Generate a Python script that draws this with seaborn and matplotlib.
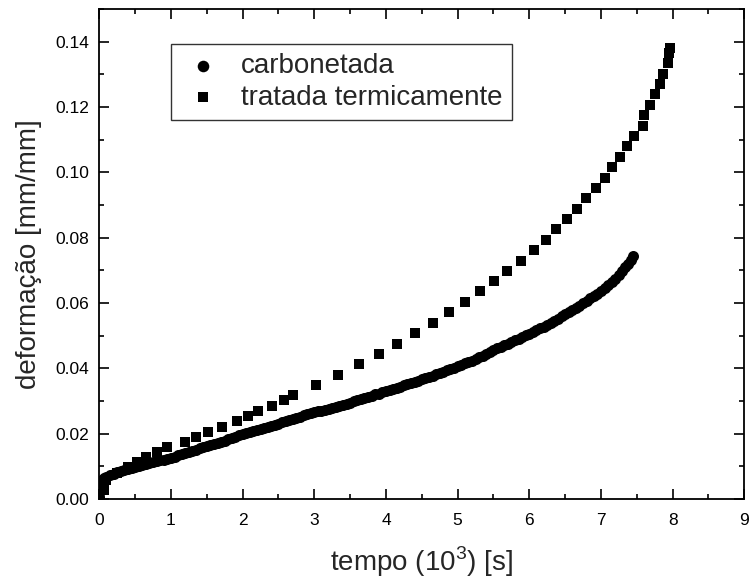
import numpy as np
import pandas as pd
import matplotlib
matplotlib.use("Agg")
import matplotlib.pyplot as plt
import seaborn as sns
from matplotlib.ticker import MultipleLocator

# carbonetada - tempo (10^3 s) and deformacao (mm/mm)
t_carb = [0.00, 0.00, 0.00, 0.01, 0.02, 0.04, 0.07, 0.10, 0.15, 0.20,
          0.25, 0.30, 0.35, 0.40, 0.45, 0.50, 0.55, 0.60, 0.65, 0.70,
          0.75, 0.80, 0.85, 0.90, 0.95, 1.00, 1.05, 1.10, 1.15, 1.20,
          1.25, 1.30, 1.35, 1.40, 1.45, 1.50, 1.55, 1.60, 1.65, 1.70,
          1.75, 1.80, 1.85, 1.90, 1.95, 2.00, 2.05, 2.10, 2.15, 2.20,
          2.25, 2.30, 2.35, 2.40, 2.45, 2.50, 2.55, 2.60, 2.65, 2.70,
          2.75, 2.80, 2.85, 2.90, 2.95, 3.00, 3.05, 3.10, 3.15, 3.20,
          3.25, 3.30, 3.35, 3.40, 3.45, 3.50, 3.55, 3.60, 3.65, 3.70,
          3.75, 3.80, 3.85, 3.90, 3.95, 4.00, 4.05, 4.10, 4.15, 4.20,
          4.25, 4.30, 4.35, 4.40, 4.45, 4.50, 4.55, 4.60, 4.65, 4.70,
          4.75, 4.80, 4.85, 4.90, 4.95, 5.00, 5.05, 5.10, 5.15, 5.20,
          5.25, 5.30, 5.35, 5.40, 5.45, 5.50, 5.55, 5.60, 5.65, 5.70,
          5.75, 5.80, 5.85, 5.90, 5.95, 6.00, 6.05, 6.10, 6.15, 6.20,
          6.25, 6.30, 6.35, 6.40, 6.45, 6.50, 6.55, 6.60, 6.65, 6.70,
          6.75, 6.80, 6.85, 6.90, 6.95, 7.00, 7.05, 7.10, 7.15, 7.20,
          7.25, 7.30, 7.34, 7.38, 7.42, 7.45]
e_carb = [0.0005, 0.0020, 0.0035, 0.0045, 0.0052, 0.0058, 0.0063, 0.0068, 0.0073, 0.0078,
          0.0082, 0.0085, 0.0088, 0.0091, 0.0094, 0.0097, 0.0100, 0.0103, 0.0106, 0.0109,
          0.0112, 0.0115, 0.0118, 0.0121, 0.0124, 0.0127, 0.0130, 0.0134, 0.0137, 0.0141,
          0.0144, 0.0148, 0.0151, 0.0155, 0.0158, 0.0162, 0.0165, 0.0169, 0.0172, 0.0176,
          0.0179, 0.0183, 0.0187, 0.0191, 0.0195, 0.0199, 0.0202, 0.0205, 0.0208, 0.0211,
          0.0215, 0.0218, 0.0221, 0.0224, 0.0228, 0.0231, 0.0235, 0.0238, 0.0242, 0.0245,
          0.0249, 0.0252, 0.0256, 0.0259, 0.0263, 0.0266, 0.0268, 0.0271, 0.0273, 0.0276,
          0.0279, 0.0282, 0.0285, 0.0288, 0.0292, 0.0295, 0.0299, 0.0302, 0.0306, 0.0309,
          0.0313, 0.0316, 0.0320, 0.0323, 0.0327, 0.0330, 0.0334, 0.0337, 0.0341, 0.0344,
          0.0348, 0.0351, 0.0355, 0.0358, 0.0362, 0.0366, 0.0370, 0.0374, 0.0378, 0.0382,
          0.0386, 0.0390, 0.0394, 0.0398, 0.0402, 0.0406, 0.0411, 0.0415, 0.0420, 0.0424,
          0.0429, 0.0434, 0.0439, 0.0444, 0.0450, 0.0455, 0.0461, 0.0466, 0.0471, 0.0476,
          0.0481, 0.0486, 0.0491, 0.0496, 0.0501, 0.0506, 0.0512, 0.0517, 0.0523, 0.0528,
          0.0534, 0.0540, 0.0546, 0.0552, 0.0559, 0.0565, 0.0572, 0.0578, 0.0585, 0.0592,
          0.0599, 0.0606, 0.0614, 0.0621, 0.0629, 0.0637, 0.0646, 0.0655, 0.0665, 0.0675,
          0.0686, 0.0698, 0.0709, 0.0720, 0.0733, 0.0745]

# tratada termicamente
t_trat = [0.00, 0.06, 0.10, 0.25, 0.40, 0.52, 0.65, 0.81, 0.95, 1.19,
          1.35, 1.51, 1.71, 1.92, 2.08, 2.22, 2.41, 2.58, 2.70, 3.02,
          3.33, 3.62, 3.90, 4.16, 4.41, 4.65, 4.88, 5.10, 5.31, 5.51,
          5.69, 5.88, 6.06, 6.24, 6.37, 6.52, 6.66, 6.79, 6.93, 7.05,
          7.16, 7.27, 7.36, 7.46, 7.58, 7.60, 7.68, 7.76, 7.83, 7.87,
          7.94, 7.95, 7.96]
e_trat = [0.0010, 0.0028, 0.0058, 0.0081, 0.0099, 0.0114, 0.0130, 0.0145, 0.0160, 0.0176,
          0.0191, 0.0206, 0.0221, 0.0239, 0.0254, 0.0270, 0.0286, 0.0303, 0.0319, 0.0349,
          0.0381, 0.0413, 0.0445, 0.0476, 0.0508, 0.0540, 0.0572, 0.0604, 0.0636, 0.0667,
          0.0699, 0.0730, 0.0763, 0.0793, 0.0826, 0.0857, 0.0888, 0.0921, 0.0953, 0.0984,
          0.1016, 0.1048, 0.1081, 0.1112, 0.1143, 0.1174, 0.1207, 0.1239, 0.1271, 0.1302,
          0.1334, 0.1365, 0.1382]

df_carb = pd.DataFrame({"tempo": t_carb, "deformacao": e_carb})
df_trat = pd.DataFrame({"tempo": t_trat, "deformacao": e_trat})

sns.set_theme(style="ticks")
plt.rcParams['font.family'] = ['Liberation Sans', 'DejaVu Sans']
plt.rcParams['mathtext.fontset'] = 'custom'
plt.rcParams['mathtext.rm'] = 'Liberation Sans'

fig = plt.figure(figsize=(7.49, 5.83), dpi=100)
ax = fig.add_axes([0.1326, 0.144, 0.8611, 0.8406])

sns.scatterplot(x="tempo", y="deformacao", data=df_carb, ax=ax, marker="o",
                color="black", s=63, linewidth=0, label="carbonetada")
sns.scatterplot(x="tempo", y="deformacao", data=df_trat, ax=ax, marker="s",
                color="black", s=45, linewidth=0, label="tratada termicamente")

ax.set_xlim(0, 9)
ax.set_ylim(0, 0.15)
ax.xaxis.set_major_locator(MultipleLocator(1))
ax.xaxis.set_minor_locator(MultipleLocator(0.5))
yt = np.arange(0, 0.141, 0.02)
ax.set_yticks(yt)
ax.set_yticklabels([f"{v:.2f}" for v in yt])
ax.yaxis.set_minor_locator(MultipleLocator(0.01))

ax.tick_params(which="both", direction="in", top=True, right=True,
               width=1.2, colors="black", labelsize=12.5)
ax.tick_params(which="major", length=7)
ax.tick_params(which="minor", length=3.5)
ax.tick_params(axis="x", which="major", pad=10)
ax.tick_params(axis="y", which="major", pad=7)
for sp in ax.spines.values():
    sp.set_linewidth(1.3)
    sp.set_color("black")

ax.set_xlabel(r"tempo (10$^3$) [s]", fontsize=20, labelpad=12)
ax.set_ylabel("deformação [mm/mm]", fontsize=20, labelpad=10)

leg = ax.legend(loc="upper left", bbox_to_anchor=(0.111, 0.929), borderaxespad=0,
                fontsize=20, frameon=True, fancybox=False, edgecolor="black",
                handlelength=1.6, handletextpad=0.56, borderpad=0.35,
                labelspacing=0.19, markerscale=1.05)
leg.get_frame().set_linewidth(1.0)

fig.savefig("out.png", dpi=100)
